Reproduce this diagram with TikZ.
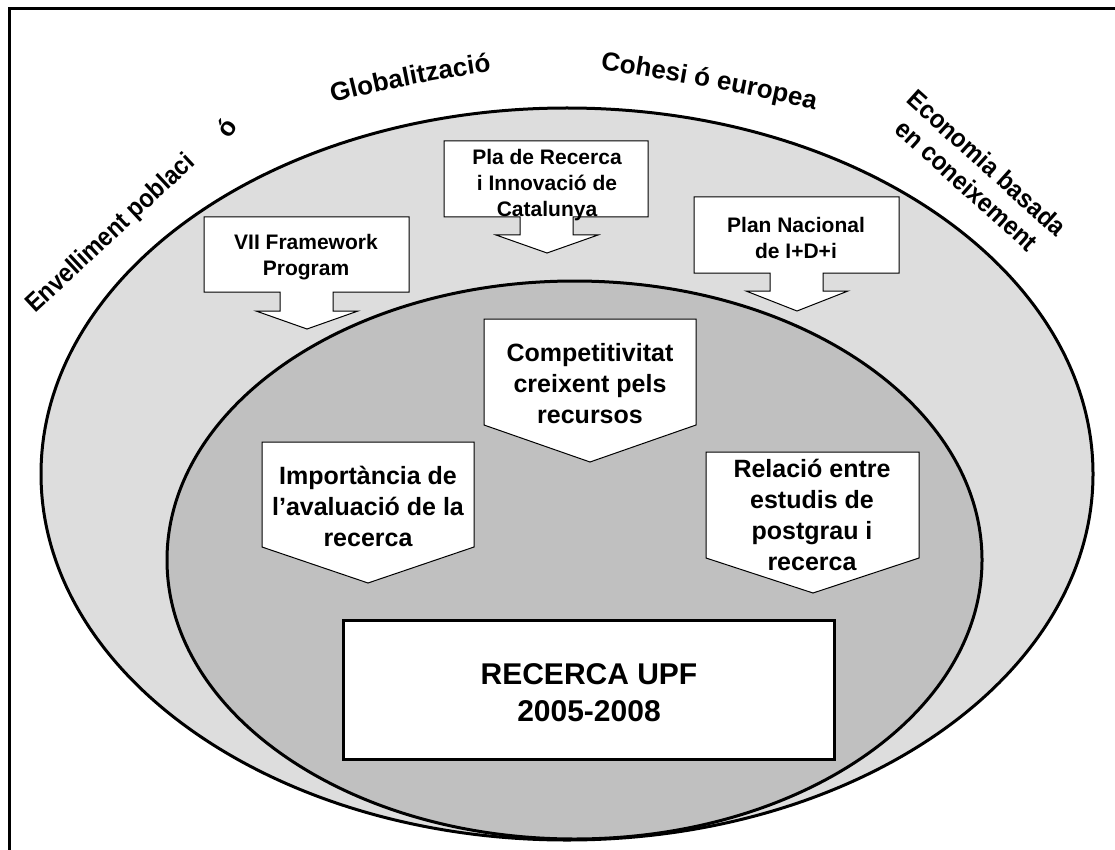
\documentclass[tikz,border=0pt]{standalone}
\usepackage{fontspec}
\setmainfont{Liberation Sans}
\usetikzlibrary{decorations.text}
\definecolor{outergray}{HTML}{DDDDDD}
\definecolor{innergray}{HTML}{C0C0C0}
\newcommand\ringfont{\bfseries\fontsize{26}{30}\selectfont}
\begin{document}
\begin{tikzpicture}[x=1pt,y=-1pt,
  frameline/.style={line width=3pt, line cap=rect},
  ringshape/.style={draw=black, line width=3pt},
  calloutshape/.style={draw=black, line width=1pt, fill=white, line join=miter},
  ctext/.style={align=center, inner sep=0pt, font=\bfseries\fontsize{21}{26}\selectfont},
  ptext/.style={align=center, inner sep=0pt, font=\bfseries\fontsize{25}{31}\selectfont},
  rtext/.style={align=center, inner sep=0pt, font=\bfseries\fontsize{30}{37}\selectfont},
  otext/.style={inner sep=0pt, font=\ringfont}]
\useasboundingbox (0,0) rectangle (1115,850);
\fill[white] (0,0) rectangle (1115,850);
% frame
\draw[frameline] (9,852) -- (9,9) -- (1117,9);
% ellipses
\draw[ringshape, fill=outergray] (567,474) ellipse [x radius=526pt, y radius=366pt];
\draw[ringshape, fill=innergray] (574.5,560) ellipse [x radius=407.5pt, y radius=279pt];
% top callouts
\draw[calloutshape] (204,217) -- (409,217) -- (409,292) -- (333,292) -- (333,311) -- (358,311) -- (307,329) -- (256,311) -- (280,311) -- (280,292) -- (204,292) -- cycle;
\draw[calloutshape] (444,141) -- (648,141) -- (648,217) -- (573,217) -- (573,235) -- (598,235) -- (547,253) -- (496,235) -- (520,235) -- (520,217) -- (444,217) -- cycle;
\draw[calloutshape] (694,197) -- (899,197) -- (899,273) -- (823,273) -- (823,291) -- (848,291) -- (797,311) -- (746,291) -- (770,291) -- (770,273) -- (694,273) -- cycle;
% inner pentagons
\draw[calloutshape] (262,442) -- (474,442) -- (474,547) -- (368,583) -- (262,547) -- cycle;
\draw[calloutshape] (484,319) -- (696,319) -- (696,425) -- (590,462) -- (484,425) -- cycle;
\draw[calloutshape] (706,452) -- (919,452) -- (919,558) -- (813,593) -- (706,558) -- cycle;
% central box
\draw[line width=3pt, fill=white] (343,620) rectangle (834,759);
% texts
\node[ctext] (vii) at (306,257) {VII Framework\\Program};
\node[ctext] (pla) at (547,185) {Pla de Recerca\\i Innovació de\\Catalunya};
\node[ctext] (plan) at (796,238) {Plan Nacional\\de I+D+i};
\node[ptext] (imp) at (368,506) {Importància de\\l’avaluació de la\\recerca};
\node[ptext] (comp) at (590,384) {Competitivitat\\creixent pels\\recursos};
\node[ptext] (rel) at (812,515) {Relació entre\\estudis de\\postgrau i\\recerca};
\node[rtext] (upf) at (589,693) {RECERCA UPF\\2005-2008};
% ring texts
\node[otext, rotate=43, xscale=0.9, anchor=base west] (env) at (35,314) {Envelliment poblaci};
\node[otext, rotate=55] (oacc) at (226,128) {ó};
\node[otext, rotate=-42, xscale=0.92, align=center] (eco) at (977,174) {Economia basada\\en coneixement};
\path[decorate, decoration={text along path, text={|\ringfont|Globalització}, text align=center}]
  (328,104) .. controls (380,90) and (440,78) .. (496,71);
\path[decorate, decoration={text along path, text={|\ringfont|Cohesi ó europea}, text align=center}]
  (595,69) .. controls (650,77) and (750,93) .. (820,111);
\end{tikzpicture}
\end{document}
